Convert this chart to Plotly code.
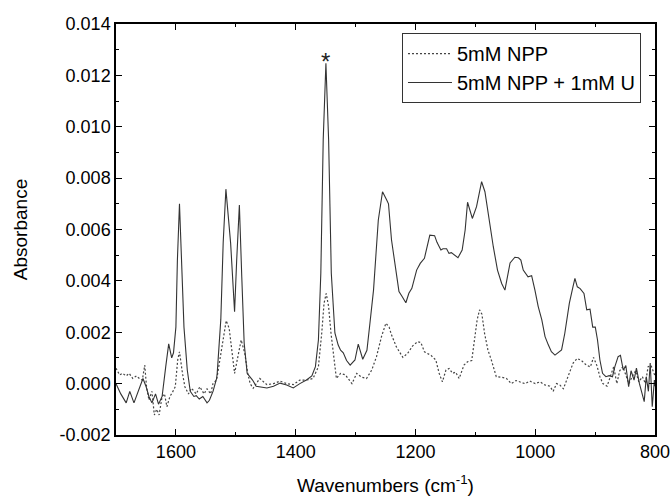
import plotly.graph_objects as go

# 5mM NPP + 1mM U (solid)
wn_u = [1700, 1692, 1683, 1677, 1670, 1660, 1655, 1650, 1645, 1640, 1634, 1629, 1623, 1617, 1612, 1607, 1604,
        1600, 1597.5, 1594, 1590.5, 1586.5, 1581, 1576, 1570, 1566, 1561, 1555, 1548, 1544, 1538, 1532,
        1531, 1525, 1521, 1516.5, 1508.6, 1502, 1498.5, 1494, 1490, 1486, 1481, 1476, 1472,
        1466, 1460, 1448, 1437, 1426, 1415, 1404, 1393, 1382, 1373, 1367, 1362, 1358, 1354, 1349.5,
        1345, 1340.5, 1334.5, 1329, 1325, 1320.5, 1315, 1309, 1301, 1295.5, 1288, 1281, 1276, 1270,
        1262, 1255, 1248, 1245, 1240, 1234, 1227.5, 1222, 1216, 1211, 1206, 1198, 1192, 1185, 1181,
        1176, 1168, 1164, 1157.5, 1154, 1148, 1144, 1140, 1135, 1129, 1122, 1117, 1113, 1105, 1098,
        1089.5, 1084, 1077, 1070, 1063, 1056, 1050.6, 1046, 1042, 1034, 1028, 1024, 1020, 1012, 1006,
        1000.5, 995, 989, 983.6, 978, 973, 967, 962, 956, 950.6, 943, 937, 933.7, 929.7, 925, 918.6,
        914, 908.5, 904, 899.7, 896, 892, 887.6, 882, 876.5, 871, 867, 861.6, 857.7, 853, 848.7, 844,
        840, 835, 831, 826, 822, 818, 814.6, 811, 808, 804.6, 801, 800]
abs_u = [0.0, -0.0004, -0.00075, -0.0003, -0.00075, -0.0001, 0.0002, -0.0001, -0.0005, -0.00075, -0.0004,
         -0.0008, -0.0005, 0.00065, 0.00155, 0.001, 0.0012,
         0.0022, 0.0048, 0.0070, 0.0048, 0.0022, 0.00053, -0.0003, -0.0005, -0.00047, -0.0006, -0.0005,
         -0.00075, -0.00065, -0.0003, 0.0002,
         0.0004, 0.0025, 0.0055, 0.00757, 0.00547, 0.0028, 0.0048, 0.00695, 0.00416, 0.00158, 0.0004,
         0.00027, 0.00014,
         -0.0001, -0.00012, -0.00017, -0.0001, 0.00002, -0.00005, -0.00017, 0.0, 0.00014, 0.0003,
         0.00066, 0.0017, 0.0043, 0.0095, 0.01247,
         0.0095, 0.0043, 0.00197, 0.0015, 0.0013, 0.0012, 0.0009, 0.00072, 0.00092, 0.00154, 0.00095,
         0.0013, 0.00235, 0.00364,
         0.00637, 0.00747, 0.00715, 0.0070, 0.0056, 0.00455, 0.00358, 0.00338, 0.00315, 0.00352,
         0.00371, 0.00442, 0.00468, 0.00488, 0.00533,
         0.00578, 0.00576, 0.0055, 0.0052, 0.00525, 0.00525, 0.00507, 0.0051, 0.005, 0.0049, 0.0052,
         0.00598, 0.00706, 0.00643, 0.00689,
         0.00786, 0.00747, 0.00637, 0.00533, 0.00442, 0.0039, 0.00364, 0.0043, 0.0047, 0.00492,
         0.0049, 0.00481, 0.00442, 0.00416, 0.0042,
         0.00364, 0.003, 0.00248, 0.00183, 0.0015, 0.00124, 0.00111, 0.0012, 0.00131, 0.00196,
         0.00313, 0.00377, 0.0041, 0.00377, 0.0037, 0.00351,
         0.00287, 0.0029, 0.0022, 0.0022, 0.0017, 0.00092, 0.0004, 0.00027, 0.00031, 0.00027, 0.00066,
         0.00105, 0.0011, 0.00053, 0.0007, -0.00012,
         0.0005, 0.00014, 0.0006, 0.0, -0.00038, -0.0007, 0.00027, -0.0003, 0.0008, -0.0009, 0.00014,
         -0.0001]

# 5mM NPP (dotted)
wn_npp = [1700, 1694, 1689, 1683, 1678, 1672, 1666, 1661, 1656, 1652, 1649, 1645, 1640, 1636, 1632, 1628,
          1623, 1619, 1615, 1610, 1606, 1601, 1597, 1594, 1589, 1585, 1579, 1574, 1566, 1560, 1553,
          1548, 1542, 1538, 1532, 1526, 1521, 1516, 1511, 1507, 1502, 1497.6, 1491, 1485, 1480, 1476,
          1471, 1460, 1448, 1437, 1426, 1415, 1404, 1393, 1382, 1371, 1362, 1356.5, 1352.6, 1349,
          1345, 1341, 1336.4, 1332, 1325, 1317, 1306, 1298, 1290, 1281.7, 1273, 1265, 1256.7, 1249.4,
          1244, 1240, 1232, 1221, 1213, 1205, 1196.6, 1191, 1185, 1174, 1166, 1160.4, 1155, 1149,
          1143.8, 1138, 1133, 1127, 1119, 1113, 1106, 1102, 1097, 1093, 1089, 1084.6, 1079, 1073,
          1065, 1056.6, 1048, 1040, 1032, 1023.6, 1017, 1009, 1000, 992, 984, 975.6, 970, 964.5, 959,
          953, 948, 942, 936.7, 930, 923, 914.6, 908, 902.6, 897, 892, 887, 880, 874.7, 869, 863.7,
          859, 853.6, 849, 843.7, 838, 832.5, 827, 821, 816, 811.5, 806.5, 802.6, 800]
abs_npp = [0.0006, 0.00034, 0.0004, 0.0003, 0.0004, 0.0002, 0.0003, 0.0002, 0.00014, 0.00072, -0.00012,
           -0.00064, -0.0003, -0.00122, -0.001, -0.00122,
           -0.0005, -0.0004, -0.0009, -0.0005, -0.00035, -0.00012, 0.00092, 0.00124, 0.0004, -0.00012,
           -0.0004, -0.00018, -0.0004, -0.00012, -0.0004,
           -0.0002, -0.0004, 0.0, 0.00014, 0.00105, 0.00183, 0.00245, 0.00215, 0.00144, 0.0004, 0.00092,
           0.0017, 0.00118, 0.0004, 0.0,
           -0.00018, 0.0002, -0.00004, 0.0, 0.0001, 0.0, -0.00004, 0.00014, 0.00014, 0.0002, 0.00066,
           0.00196, 0.00313, 0.00351,
           0.003, 0.00196, 0.00092, 0.0002, 0.0004, 0.00034, 0.0, 0.0004, 0.00025, 0.0002, 0.00053,
           0.00105, 0.00183, 0.00235,
           0.0022, 0.0019, 0.00144, 0.00102, 0.00118, 0.00146, 0.00163, 0.0016, 0.00124, 0.0011,
           0.00092, 0.0004, 0.00007, 0.00053,
           0.00059, 0.0004, 0.00045, 0.0002, 0.00072, 0.00085, 0.0009, 0.0017, 0.00248, 0.00287,
           0.0027, 0.00196, 0.00131, 0.0009,
           0.00027, 0.00025, 0.0002, 0.0, 0.00012, 0.00005, 0.0, 0.0001, 0.0, 0.00007, -0.00005,
           -0.0001, -0.0003, 0.0, -0.00005,
           -0.0002, 0.0001, 0.00046, 0.0008, 0.00098, 0.0009, 0.00072, 0.00065, 0.00102, 0.0007,
           0.00027, 0.0, -0.0001, 0.00027, 0.00066, 0.0,
           0.0005, 0.00066, 0.00033, 0.0, 0.00027, 0.0005, 0.00007, 0.00027, 0.0, 0.00066, 0.0007,
           0.0005, 0.0003]

y_ticks = [-0.002, 0.0, 0.002, 0.004, 0.006, 0.008, 0.010, 0.012, 0.014]
y_labels = ['-0.002', '0.000', '0.002', '0.004', '0.006', '0.008', '0.010', '0.012', '0.014']
x_ticks = [1600, 1400, 1200, 1000, 800]

font = 'Liberation Sans, Arial, sans-serif'

fig = go.Figure()
fig.add_trace(go.Scatter(x=wn_npp, y=abs_npp, mode='lines', name='5mM NPP',
                         line=dict(color='#444444', width=1.2, dash='2px,2px')))
fig.add_trace(go.Scatter(x=wn_u, y=abs_u, mode='lines', name='5mM NPP + 1mM U',
                         line=dict(color='#333333', width=1.1)))

fig.add_annotation(x=1349.5, y=0.0125, text='*', showarrow=False, yanchor='bottom',
                   font=dict(size=24, color='#222222', family=font), yshift=-14)

axis_common = dict(showline=True, linecolor='black', linewidth=1.5, mirror='ticks',
                   ticks='inside', ticklen=6, tickwidth=1, tickcolor='black',
                   showgrid=False, zeroline=False, automargin=False,
                   tickfont=dict(size=18, color='black', family=font))

fig.update_xaxes(range=[1700, 800], tickvals=x_ticks,
                 minor=dict(dtick=100, tick0=800, ticks='inside', ticklen=3, tickcolor='black'),
                 title=dict(text='Wavenumbers (cm<sup>-1</sup>)', standoff=18,
                            font=dict(size=19, color='black', family=font)),
                 **axis_common)
fig.update_yaxes(range=[-0.002, 0.014], tickvals=y_ticks, ticktext=y_labels,
                 minor=dict(dtick=0.001, tick0=0, ticks='inside', ticklen=3, tickcolor='black'),
                 title=dict(text='Absorbance', standoff=27,
                            font=dict(size=19, color='black', family=font)),
                 **axis_common)

fig.update_layout(
    width=672, height=496,
    margin=dict(l=116, r=17, t=24, b=61),
    plot_bgcolor='white', paper_bgcolor='white',
    font=dict(family=font, color='black'),
    legend=dict(x=0.974, y=0.978, xanchor='right', yanchor='top',
                bgcolor='white', bordercolor='#333333', borderwidth=1,
                font=dict(size=20, color='black', family=font),
                itemwidth=44, tracegroupgap=0),
    showlegend=True,
)

fig.write_html('out.html', config={'displayModeBar': False},
               post_script="document.body.style.margin='0';")
